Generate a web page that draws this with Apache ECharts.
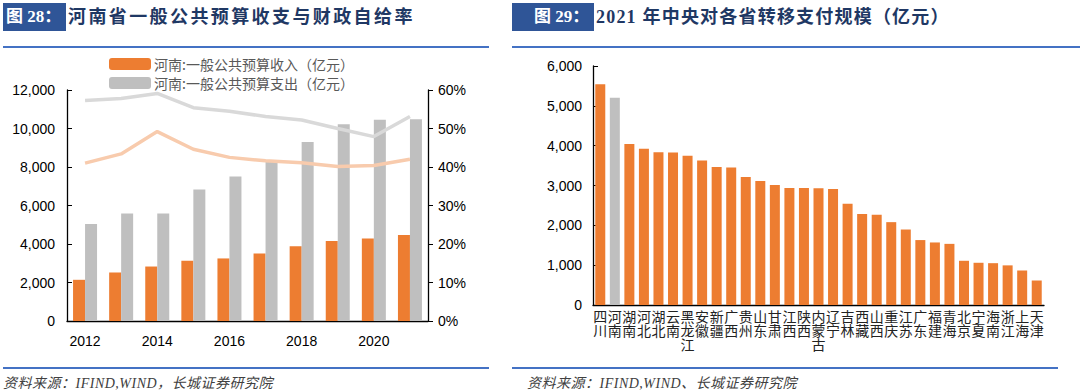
<!DOCTYPE html>
<html>
<head>
<meta charset="utf-8">
<script src="https://cdn.jsdelivr.net/npm/echarts@6/dist/echarts.min.js"></script>
<style>
  html,body{margin:0;padding:0;background:#fff;}
  #wrap{position:relative;width:1080px;height:390px;overflow:hidden;}
  #chart{position:absolute;left:0;top:0;width:1080px;height:390px;}
  .box{position:absolute;background:#2F5597;color:#fff;font:bold 17px "Liberation Serif","Noto Sans CJK SC",serif;line-height:28px;padding-left:3px;box-sizing:border-box;white-space:nowrap;}
  .ttl{position:absolute;color:#1F3864;font:bold 18px "Liberation Serif","Noto Sans CJK SC",serif;letter-spacing:2.4px;line-height:28px;white-space:nowrap;}
  .hl{position:absolute;height:2px;background:#4472C4;}
  .src{position:absolute;color:#404040;font:italic 14px "Liberation Serif","Noto Sans CJK SC",serif;white-space:nowrap;letter-spacing:0.5px;}
</style>
</head>
<body>
<div id="wrap">
  <div id="chart"></div>
  <div class="box" style="left:3px;top:3px;width:63px;height:28px;">图 28：</div>
  <div class="ttl" style="left:68px;top:3px;">河南省一般公共预算收支与财政自给率</div>
  <div class="box" style="left:512px;top:3px;width:82px;height:28px;padding-left:22px;">图 29：</div>
  <div class="ttl" style="left:596px;top:3px;letter-spacing:1.2px;">2021 年中央对各省转移支付规模（亿元）</div>
  <div class="hl" style="left:3px;top:46px;width:486px;"></div>
  <div class="hl" style="left:512px;top:46px;width:568px;"></div>
  <div class="hl" style="left:3px;top:367px;width:486px;"></div>
  <div class="hl" style="left:512px;top:367px;width:546px;"></div>
  <div class="src" style="left:3px;top:372px;">资料来源：IFIND,WIND，长城证券研究院</div>
  <div class="src" style="left:527px;top:372px;">资料来源：IFIND,WIND、长城证券研究院</div>
</div>
<script>
// ---------- Left chart data ----------
const years = ['2012','2013','2014','2015','2016','2017','2018','2019','2020','2021'];
const revenue = [2140, 2520, 2830, 3130, 3250, 3510, 3880, 4160, 4290, 4470];
const expenditure = [5040, 5580, 5580, 6830, 7510, 8310, 9300, 10220, 10450, 10480];
const ratioUpper = [0.573, 0.578, 0.591, 0.554, 0.545, 0.531, 0.522, 0.500, 0.479, 0.531];
const ratioLower = [0.410, 0.434, 0.492, 0.446, 0.425, 0.416, 0.411, 0.401, 0.404, 0.420];
const revenueName = '河南:一般公共预算收入（亿元）';
const expenditureName = '河南:一般公共预算支出（亿元）';

// ---------- Right chart data ----------
const provinces = ['四川','河南','湖南','河北','湖北','云南','黑龙江','安徽','新疆','广西','贵州','山东','甘肃','江西','陕西','内蒙古','辽宁','吉林','西藏','山西','重庆','江苏','广东','福建','青海','北京','宁夏','海南','浙江','上海','天津'];
const transfers = [5540, 5200, 4040, 3925, 3835, 3830, 3750, 3625, 3465, 3450, 3215, 3115, 3015, 2940, 2935, 2930, 2915, 2540, 2285, 2265, 2080, 1895, 1630, 1570, 1535, 1110, 1060, 1050, 995, 865, 615];
const highlightProvince = '河南';

const ORANGE = '#ED7D31', GRAY = '#BFBFBF';
const numFont = '"Liberation Sans", Arial, sans-serif';
const fmt = v => v.toLocaleString('en-US');

const chart = echarts.init(document.getElementById('chart'), null, {renderer: 'svg'});
chart.setOption({
  animation: false,
  legend: {
    data: [revenueName, expenditureName],
    orient: 'vertical',
    left: 104, top: 52,
    itemWidth: 42, itemHeight: 12, itemGap: 5,
    textStyle: {color: '#595959', fontSize: 14, fontFamily: '"Noto Sans CJK SC", sans-serif', padding: [0,0,0,-2]}
  },
  grid: [
    {left: 67, top: 90, width: 361, height: 231},
    {left: 593, top: 66, width: 451, height: 239}
  ],
  xAxis: [
    {
      type: 'category', gridIndex: 0, data: years,
      axisLine: {lineStyle: {color: '#000', width: 1.3}},
      axisTick: {inside: true, interval: 1, length: 5, lineStyle: {color: '#000'}},
      axisLabel: {interval: 1, color: '#000', fontSize: 14, fontFamily: numFont, margin: 13}
    },
    {
      type: 'category', gridIndex: 1, data: provinces,
      axisLine: {lineStyle: {color: '#000', width: 1.3}},
      axisTick: {inside: true, interval: 0, length: 4, lineStyle: {color: '#000'}},
      axisLabel: {
        interval: 0, color: '#222', fontSize: 14, lineHeight: 14, margin: 4,
        fontFamily: '"Noto Sans CJK SC", sans-serif', verticalAlign: 'top',
        formatter: v => v.split('').join('\n')
      }
    }
  ],
  yAxis: [
    {
      type: 'value', gridIndex: 0, min: 0, max: 12000, interval: 2000,
      splitLine: {show: false},
      axisLine: {show: true, lineStyle: {color: '#000', width: 1.3}},
      axisTick: {show: true, inside: true, length: 5, lineStyle: {color: '#000'}},
      axisLabel: {color: '#000', fontSize: 14, fontFamily: numFont, margin: 12, formatter: fmt}
    },
    {
      type: 'value', gridIndex: 0, min: 0, max: 0.6, interval: 0.1, position: 'right',
      splitLine: {show: false},
      axisLine: {show: true, lineStyle: {color: '#000', width: 1.3}},
      axisTick: {show: true, inside: false, length: 5, lineStyle: {color: '#000'}},
      axisLabel: {color: '#000', fontSize: 14, fontFamily: numFont, margin: 10,
        formatter: v => Math.round(v * 100) + '%'}
    },
    {
      type: 'value', gridIndex: 1, min: 0, max: 6000, interval: 1000,
      splitLine: {show: false},
      axisLine: {show: true, lineStyle: {color: '#000', width: 1.3}},
      axisTick: {show: true, inside: true, length: 5, lineStyle: {color: '#000'}},
      axisLabel: {color: '#000', fontSize: 14, fontFamily: numFont, margin: 11, formatter: fmt}
    }
  ],
  series: [
    {name: revenueName, type: 'bar', xAxisIndex: 0, yAxisIndex: 0, data: revenue,
      barWidth: 12, barGap: '0%', itemStyle: {color: ORANGE}},
    {name: expenditureName, type: 'bar', xAxisIndex: 0, yAxisIndex: 0, data: expenditure,
      barWidth: 12, barGap: '0%', itemStyle: {color: GRAY}},
    {name: '自给率上', type: 'line', xAxisIndex: 0, yAxisIndex: 1, data: ratioUpper,
      symbol: 'none', lineStyle: {color: '#D9D9D9', width: 3.5}, z: 3},
    {name: '自给率下', type: 'line', xAxisIndex: 0, yAxisIndex: 1, data: ratioLower,
      symbol: 'none', lineStyle: {color: '#F8CBAD', width: 3.5}, z: 3},
    {name: '转移支付', type: 'bar', xAxisIndex: 1, yAxisIndex: 2, barWidth: 10,
      data: transfers.map((v, i) => ({value: v,
        itemStyle: {color: provinces[i] === highlightProvince ? GRAY : ORANGE}}))}
  ]
});
</script>
</body>
</html>
